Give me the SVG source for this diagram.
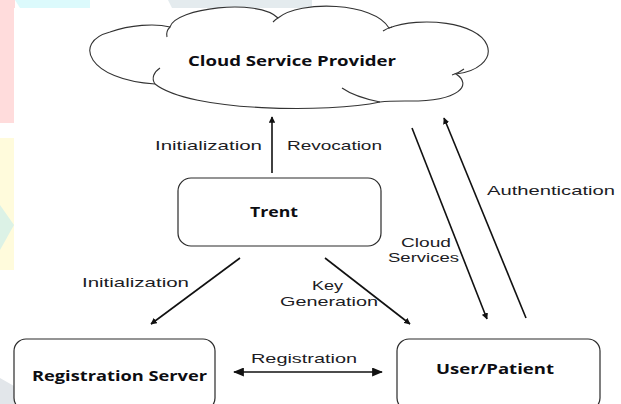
<svg xmlns="http://www.w3.org/2000/svg" width="621" height="404" viewBox="0 0 621 404">
  <style>
    .lbl { font-family: "Liberation Sans", Arial, sans-serif; font-size: 13px; fill: #1c1c24; }
    .ttl { font-family: "Open Sans", "Liberation Sans", sans-serif; font-size: 13.5px; font-weight: bold; fill: #0d0d12; }
    .box { fill: #ffffff; stroke: #2a2a2a; stroke-width: 1.2; }
    .cloud { fill: #ffffff; stroke: #333333; stroke-width: 1.1; }
    .stub { fill: none; stroke: #333333; stroke-width: 1.1; }
    .conn { stroke: #111111; stroke-width: 1.6; fill: none; }
  </style>
  <defs>
    <marker id="ah" viewBox="0 0 10 10" refX="9" refY="5" markerWidth="6.5" markerHeight="6.5" orient="auto-start-reverse" markerUnits="userSpaceOnUse">
      <path d="M0,0 L10,5 L0,10 Z" fill="#111111"/>
    </marker>
    <marker id="ahb" viewBox="0 0 12 10" refX="11" refY="5" markerWidth="11" markerHeight="9" orient="auto-start-reverse" markerUnits="userSpaceOnUse">
      <path d="M0,0 L12,5 L0,10 Z" fill="#111111"/>
    </marker>
  </defs>

  <!-- faint watermark background -->
  <g id="watermark">
    <rect x="0" y="0" width="621" height="404" fill="#ffffff"/>
    <polygon points="0,0 15,0 15,123 0,123" fill="#ffdcdc"/>
    <polygon points="15,0 90,0 90,8 20,8" fill="#dcfafc"/>
    <polygon points="168,0 312,0 312,8 172,8" fill="#e4ebee"/>
    <polygon points="0,138 14,138 14,270 0,270" fill="#fffbdc"/>
    <polygon points="0,205 14,225 0,250" fill="#dcf2e6"/>
    <polygon points="0,378 14,386 14,404 0,404" fill="#e2e6ea"/>
    <rect x="14" y="8" width="607" height="396" fill="#ffffff"/>
  </g>

  <g id="cloud-service-provider">
    <path class="cloud" d="M170,27 C175,8 258,-2 278,18 C300,0 374,2 389,28 C420,16 478,22 487,45 C493,60 476,72 456,74 C472,84 462,102 405,101 C395,101 388,101 380,102 C330,113 190,112 155,84 C88,80 72,42 110,32 C130,25 155,23 170,27 Z"/>
    <path class="stub" d="M167,37 C166,33 167,30 170,27"/>
    <path class="stub" d="M273,22 C275,20 276,19 278,18"/>
    <path class="stub" d="M383,31 C386,29 388,28 392,27"/>
    <path class="stub" d="M452,75 C456,74 460,72 464,69"/>
    <path class="stub" d="M380,102 C365,99 352,95 342,88"/>
    <path class="stub" d="M160,68 C154,72 151,78 155,84"/>
    <text class="ttl" x="188" y="66" textLength="208" lengthAdjust="spacingAndGlyphs">Cloud Service Provider</text>
  </g>

  <g id="trent">
    <rect class="box" x="178" y="178" width="203" height="68" rx="13" ry="13"/>
    <text class="ttl" x="250" y="217" textLength="48" lengthAdjust="spacingAndGlyphs">Trent</text>
  </g>

  <g id="registration-server">
    <rect class="box" x="14" y="339" width="201" height="71" rx="12" ry="12"/>
    <text class="ttl" x="32" y="381" textLength="175" lengthAdjust="spacingAndGlyphs">Registration Server</text>
  </g>

  <g id="user-patient">
    <rect class="box" x="397" y="339" width="203" height="71" rx="12" ry="12"/>
    <text class="ttl" x="436" y="374" textLength="118" lengthAdjust="spacingAndGlyphs">User/Patient</text>
  </g>

  <g id="connectors">
    <line class="conn" x1="272" y1="173" x2="272" y2="117" marker-end="url(#ah)"/>
    <line class="conn" x1="412" y1="128" x2="487" y2="319" marker-end="url(#ah)"/>
    <line class="conn" x1="526" y1="318" x2="444" y2="118" marker-end="url(#ah)"/>
    <line class="conn" x1="240" y1="258" x2="151" y2="324" marker-end="url(#ah)"/>
    <line class="conn" x1="325" y1="258" x2="410" y2="324" marker-end="url(#ah)"/>
    <line class="conn" x1="234" y1="372" x2="382" y2="372" marker-start="url(#ahb)" marker-end="url(#ahb)"/>
  </g>

  <g id="labels">
    <text class="lbl" x="155" y="150" textLength="107" lengthAdjust="spacingAndGlyphs">Initialization</text>
    <text class="lbl" x="287" y="150" textLength="95" lengthAdjust="spacingAndGlyphs">Revocation</text>
    <text class="lbl" x="487" y="195" textLength="128" lengthAdjust="spacingAndGlyphs">Authentication</text>
    <text class="lbl" x="401" y="247" textLength="50" lengthAdjust="spacingAndGlyphs">Cloud</text>
    <text class="lbl" x="388" y="262" textLength="71" lengthAdjust="spacingAndGlyphs">Services</text>
    <text class="lbl" x="312" y="290" textLength="31" lengthAdjust="spacingAndGlyphs">Key</text>
    <text class="lbl" x="280" y="306" textLength="98" lengthAdjust="spacingAndGlyphs">Generation</text>
    <text class="lbl" x="82" y="287" textLength="107" lengthAdjust="spacingAndGlyphs">Initialization</text>
    <text class="lbl" x="251" y="363" textLength="106" lengthAdjust="spacingAndGlyphs">Registration</text>
  </g>
</svg>
